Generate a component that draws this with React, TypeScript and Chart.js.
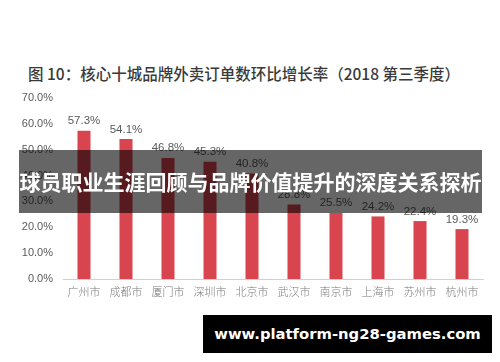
import React, { useEffect, useRef } from "react";
import { Chart, registerables } from "chart.js";

Chart.register(...registerables);

const categories = ["广州市", "成都市", "厦门市", "深圳市", "北京市", "武汉市", "南京市", "上海市", "苏州市", "杭州市"];
const growthRates = [57.3, 54.1, 46.8, 45.3, 40.8, 28.8, 25.5, 24.2, 22.4, 19.3];
const yTickMax = 70;
const titleText = "图 10：核心十城品牌外卖订单数环比增长率（2018 第三季度）";
const overlayText = "球员职业生涯回顾与品牌价值提升的深度关系探析";
const footerText = "www.platform-ng28-games.com";

const valueLabelPlugin = {
  id: "valueLabels",
  afterDatasetsDraw(chart: any) {
    const ctx = chart.ctx;
    const meta = chart.getDatasetMeta(0);
    ctx.save();
    ctx.font = "11.5px 'Liberation Sans', Arial, sans-serif";
    ctx.fillStyle = "#5a5a5a";
    ctx.textAlign = "center";
    ctx.textBaseline = "bottom";
    meta.data.forEach((el: any, i: number) => {
      ctx.fillText(growthRates[i].toFixed(1) + "%", el.x, el.y - 4);
    });
    ctx.restore();
  },
};

export default function App() {
  const canvasRef = useRef<HTMLCanvasElement | null>(null);

  useEffect(() => {
    document.body.style.margin = "0";
    document.body.style.background = "#ffffff";
    const chart = new Chart(canvasRef.current!, {
      type: "bar",
      data: {
        labels: categories,
        datasets: [
          {
            data: growthRates,
            backgroundColor: "#d9454f",
            borderWidth: 0,
            categoryPercentage: 1,
            barPercentage: 0.31,
          },
        ],
      },
      options: {
        animation: false,
        responsive: false,
        maintainAspectRatio: false,
        layout: { padding: { top: 98, bottom: 52, left: 0, right: 17 } },
        plugins: {
          legend: { display: false },
          title: { display: false },
          tooltip: { enabled: false },
        },
        scales: {
          x: {
            grid: { display: false, drawTicks: false },
            border: { display: true, color: "#d0d0d0", width: 1 },
            ticks: {
              color: "#7a7a7a",
              font: { family: "'Noto Sans CJK SC', sans-serif", size: 11, weight: 300 },
              padding: 6,
              maxRotation: 0,
            },
            afterFit(scale: any) {
              scale.height = 31;
            },
          },
          y: {
            min: 0,
            max: yTickMax,
            grid: { display: false, drawTicks: false },
            border: { display: false },
            ticks: {
              stepSize: 10,
              color: "#5a5a5a",
              font: { family: "'Liberation Sans', Arial, sans-serif", size: 11 },
              padding: 10,
              callback: (v: any) => Number(v).toFixed(1) + "%",
            },
            afterFit(scale: any) {
              scale.width = 63;
            },
          },
        },
      },
      plugins: [valueLabelPlugin],
    });
    return () => chart.destroy();
  }, []);

  return (
    <div style={{ position: "relative", width: 500, height: 362, background: "#fff", overflow: "hidden" }}>
      <div
        style={{
          position: "absolute",
          left: 28,
          top: 63,
          fontFamily: "'Noto Sans CJK SC', sans-serif",
          fontSize: 15.5,
          fontWeight: 500,
          color: "#3a3a3a",
          whiteSpace: "nowrap",
          lineHeight: "20px",
        }}
      >
        {titleText}
      </div>
      <canvas ref={canvasRef} width={500} height={362} style={{ position: "absolute", left: 0, top: 0 }} />
      <div
        style={{
          position: "absolute",
          left: 19,
          top: 150,
          width: 463,
          height: 63,
          background: "rgba(0,0,0,0.6)",
          color: "#fff",
          fontFamily: "'Noto Sans CJK SC', sans-serif",
          fontWeight: 700,
          fontSize: 21,
          lineHeight: "63px",
          textAlign: "center",
          whiteSpace: "nowrap",
        }}
      >
        {overlayText}
      </div>
      <div
        style={{
          position: "absolute",
          left: 203,
          top: 315,
          width: 289,
          height: 38,
          background: "#000",
          color: "#fff",
          fontFamily: "'DejaVu Sans', sans-serif",
          fontWeight: 700,
          fontSize: 14.8,
          lineHeight: "38px",
          textAlign: "center",
          whiteSpace: "nowrap",
        }}
      >
        {footerText}
      </div>
    </div>
  );
}
